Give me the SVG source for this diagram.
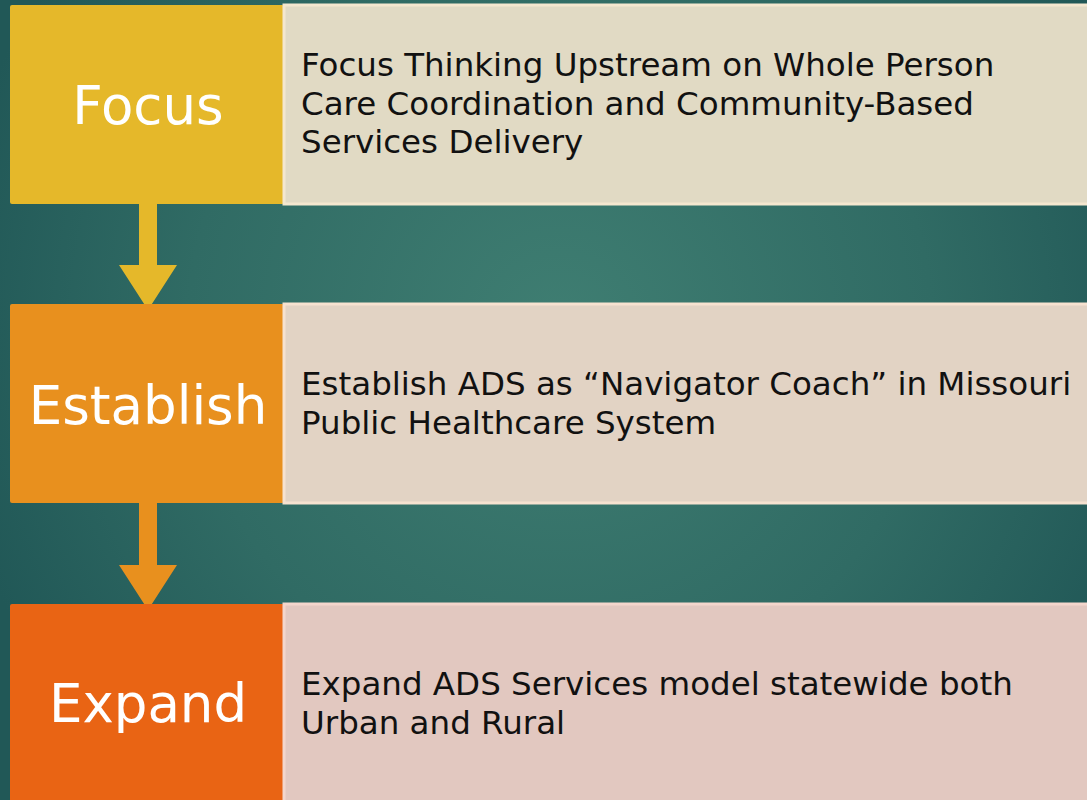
<svg xmlns="http://www.w3.org/2000/svg" width="1087" height="800" viewBox="0 0 1087 800">
<defs>
<radialGradient id="bg" cx="560" cy="330" r="620" gradientUnits="userSpaceOnUse">
<stop offset="0" stop-color="#3F7E72"/>
<stop offset="0.6" stop-color="#306B64"/>
<stop offset="1" stop-color="#215857"/>
</radialGradient>
<style>
.lbl{font-family:"DejaVu Sans","Liberation Sans",sans-serif;font-size:53px;fill:#ffffff;text-anchor:middle}
.txt{font-family:"DejaVu Sans","Liberation Sans",sans-serif;font-size:32.5px;fill:#111111}
</style>
</defs>
<rect x="0" y="0" width="1087" height="800" fill="url(#bg)"/>
<g id="connectors">
<path d="M139,204 L157,204 L157,265 L177,265 L148,310 L119,265 L139,265 Z" fill="#E5B82A"/>
<path d="M139,503 L157,503 L157,565 L177,565 L148,610 L119,565 L139,565 Z" fill="#E8901E"/>
</g>
<g id="focus">
<rect x="10" y="5" width="274" height="199" rx="2" fill="#E5B82A"/>
<rect x="284" y="5" width="810" height="199" fill="#E1DAC4" stroke="#F4E7CF" stroke-width="3"/>
<text class="lbl" x="148" y="124">Focus</text>
<text class="txt" x="301" y="76">Focus Thinking Upstream on Whole Person</text>
<text class="txt" x="301" y="115">Care Coordination and Community-Based</text>
<text class="txt" x="301" y="153">Services Delivery</text>
</g>
<g id="establish">
<rect x="10" y="304" width="274" height="199" rx="2" fill="#E8901E"/>
<rect x="284" y="304" width="810" height="199" fill="#E2D3C4" stroke="#F6E2D0" stroke-width="3"/>
<text class="lbl" x="148" y="424">Establish</text>
<text class="txt" x="301" y="395">Establish ADS as “Navigator Coach” in Missouri</text>
<text class="txt" x="301" y="434">Public Healthcare System</text>
</g>
<g id="expand">
<rect x="10" y="604" width="274" height="200" rx="2" fill="#E96414"/>
<rect x="284" y="604" width="810" height="200" fill="#E2C8C0" stroke="#F3D6CC" stroke-width="3"/>
<text class="lbl" x="148" y="722">Expand</text>
<text class="txt" x="301" y="695">Expand ADS Services model statewide both</text>
<text class="txt" x="301" y="734">Urban and Rural</text>
</g>
</svg>
